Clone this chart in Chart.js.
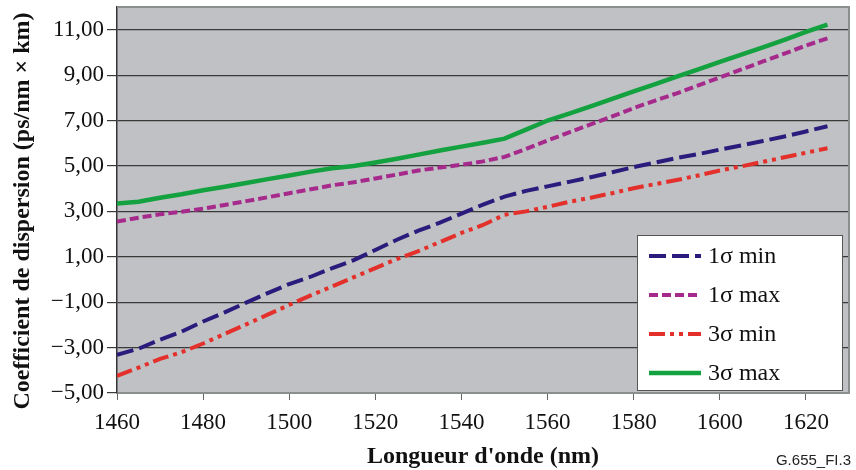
<!DOCTYPE html>
<html lang="fr">
<head>
<meta charset="UTF-8">
<title>Coefficient de dispersion G.655</title>
<script src="https://cdn.jsdelivr.net/npm/chart.js@4.4.1/dist/chart.umd.min.js"></script>
<style>
body { margin: 0; background: #fff; }
.cadre { position: relative; width: 856px; height: 470px; }
.ref {
    position: absolute; right: 5px; bottom: 2px;
    font-family: "Liberation Sans", Arial, sans-serif;
    font-size: 15px; color: #222;
}
</style>
</head>
<body>
<div class="cadre">
    <canvas id="graphique" width="856" height="470"></canvas>
    <div class="ref">G.655_FI.3</div>
</div>
<script>
// Données (pas de 5 nm)
const longueurs = [1460, 1465, 1470, 1475, 1480, 1485, 1490, 1495, 1500, 1505, 1510, 1515,
    1520, 1525, 1530, 1535, 1540, 1545, 1550, 1555, 1560, 1565, 1570, 1575, 1580, 1585,
    1590, 1595, 1600, 1605, 1610, 1615, 1620, 1625];

const sigma1Min = [-3.32, -3.05, -2.65, -2.30, -1.85, -1.45, -1.02, -0.60, -0.20, 0.12, 0.50, 0.85,
    1.30, 1.75, 2.15, 2.50, 2.90, 3.30, 3.65, 3.90, 4.10, 4.30, 4.50, 4.72, 4.95, 5.15,
    5.35, 5.52, 5.72, 5.90, 6.10, 6.30, 6.52, 6.75];

const sigma1Max = [2.55, 2.72, 2.87, 2.98, 3.12, 3.28, 3.45, 3.62, 3.80, 3.97, 4.15, 4.28,
    4.45, 4.62, 4.80, 4.93, 5.05, 5.20, 5.40, 5.75, 6.12, 6.48, 6.83, 7.18, 7.55, 7.88,
    8.20, 8.55, 8.90, 9.25, 9.60, 9.95, 10.30, 10.62];

const sigma3Min = [-4.25, -3.88, -3.50, -3.20, -2.82, -2.40, -1.98, -1.55, -1.12, -0.70, -0.30, 0.10,
    0.50, 0.90, 1.25, 1.65, 2.05, 2.40, 2.85, 3.00, 3.20, 3.42, 3.60, 3.80, 4.02, 4.20,
    4.38, 4.58, 4.80, 4.98, 5.18, 5.38, 5.58, 5.78];

const sigma3Max = [3.35, 3.42, 3.60, 3.75, 3.93, 4.08, 4.25, 4.42, 4.58, 4.75, 4.90, 5.00,
    5.15, 5.32, 5.50, 5.68, 5.85, 6.02, 6.20, 6.60, 7.00, 7.30, 7.62, 7.95, 8.28, 8.60,
    8.93, 9.25, 9.58, 9.90, 10.22, 10.55, 10.90, 11.22];

const ticksX = [1460, 1480, 1500, 1520, 1540, 1560, 1580, 1600, 1620];
const ticksY = [-5, -3, -1, 1, 3, 5, 7, 9, 11];

const serif = '"Liberation Serif", "Times New Roman", serif';

function points(serie) {
    return longueurs.map((x, i) => ({ x: x, y: serie[i] }));
}

function formatY(v) {
    return (v < 0 ? '\u2212' : '') + Math.abs(v).toFixed(2).replace('.', ',');
}

// fond gris + cadre de la zone de tracé
const fondGris = {
    id: 'fondGris',
    beforeDraw(chart) {
        const { ctx, chartArea: a } = chart;
        ctx.save();
        ctx.fillStyle = '#c0c1c5';
        ctx.fillRect(a.left, a.top, a.right - a.left, a.bottom - a.top);
        ctx.restore();
    },
    beforeDatasetsDraw(chart) {
        const { ctx, chartArea: a } = chart;
        ctx.save();
        ctx.strokeStyle = '#8c8f8f';
        ctx.lineWidth = 2;
        ctx.beginPath();
        ctx.moveTo(a.left, a.top);
        ctx.lineTo(a.right, a.top);
        ctx.lineTo(a.right, a.bottom);
        ctx.stroke();
        ctx.restore();
    }
};

// légende encadrée dans la zone de tracé
const legendeCadre = {
    id: 'legendeCadre',
    afterDraw(chart) {
        const { ctx, chartArea: a } = chart;
        const w = 205, h = 155;
        const x0 = a.right - 7 - w, y0 = a.bottom - 3 - h;
        ctx.save();
        ctx.fillStyle = '#fff';
        ctx.fillRect(x0, y0, w, h);
        ctx.strokeStyle = '#555';
        ctx.lineWidth = 1;
        ctx.strokeRect(x0 + 0.5, y0 + 0.5, w, h);
        ctx.font = '24px ' + serif;
        ctx.textBaseline = 'middle';
        chart.data.datasets.forEach((ds, i) => {
            const y = y0 + 21 + i * 39;
            ctx.strokeStyle = ds.borderColor;
            ctx.lineWidth = ds.borderWidth;
            ctx.setLineDash(ds.borderDash || []);
            ctx.beginPath();
            ctx.moveTo(x0 + 12, y);
            ctx.lineTo(x0 + 64, y);
            ctx.stroke();
            ctx.setLineDash([]);
            ctx.fillStyle = '#111';
            ctx.fillText(ds.label, x0 + 71, y + 1);
        });
        ctx.restore();
    }
};

// le titre vertical est un peu plus bas que le centre de la zone de tracé
function decalerTitre(s) {
    if (s._decale) return;
    const orig = s.drawTitle;
    s.drawTitle = function () {
        this.ctx.save();
        this.ctx.translate(0, 11);
        orig.call(this);
        this.ctx.restore();
    };
    s._decale = true;
}

const ctx = document.getElementById('graphique').getContext('2d');
new Chart(ctx, {
    type: 'line',
    data: {
        datasets: [
            { label: '1\u03c3 min', data: points(sigma1Min), borderColor: '#2b1b7c', borderWidth: 4, borderDash: [17, 6] },
            { label: '1\u03c3 max', data: points(sigma1Max), borderColor: '#a62a8c', borderWidth: 4, borderDash: [9, 4] },
            { label: '3\u03c3 min', data: points(sigma3Min), borderColor: '#e3302b', borderWidth: 4, borderDash: [16, 5, 4, 5, 4, 5] },
            { label: '3\u03c3 max', data: points(sigma3Max), borderColor: '#13a23f', borderWidth: 4.5 }
        ]
    },
    options: {
        responsive: false,
        animation: false,
        devicePixelRatio: 1,
        elements: { point: { radius: 0 }, line: { tension: 0, borderCapStyle: 'butt' } },
        layout: { padding: { top: 7, right: 7, left: 0, bottom: 0 } },
        plugins: { legend: { display: false }, tooltip: { enabled: false } },
        scales: {
            x: {
                type: 'linear',
                min: 1460,
                max: 1630,
                afterBuildTicks: s => { s.ticks = ticksX.map(v => ({ value: v })); },
                afterFit: s => { s.height = 77; s.paddingLeft = 0; s.paddingRight = 0; },
                grid: { drawOnChartArea: false, drawTicks: true, tickLength: 7, color: '#666' },
                border: { color: '#8c8f8f', width: 2 },
                ticks: { font: { family: serif, size: 23 }, color: '#111', padding: 9, maxRotation: 0, callback: v => String(v) },
                title: {
                    display: true, text: "Longueur d'onde (nm)",
                    font: { family: serif, size: 24, weight: 'bold', lineHeight: 1 }, color: '#111',
                    padding: { top: 0, bottom: 1 }
                }
            },
            y: {
                min: -5,
                max: 12,
                afterBuildTicks: s => { s.ticks = ticksY.map(v => ({ value: v })); },
                afterFit: s => { s.width = 117; s.paddingTop = 0; s.paddingBottom = 0; decalerTitre(s); },
                grid: { color: '#3a3a3a', lineWidth: 1.2, tickLength: 10 },
                border: { color: '#333', width: 1.5 },
                ticks: { font: { family: serif, size: 23 }, color: '#111', padding: 3, callback: formatY },
                title: {
                    display: true, text: 'Coefficient de dispersion (ps/nm \u00d7 km)',
                    font: { family: serif, size: 24, weight: 'bold', lineHeight: 1 }, color: '#111',
                    padding: { top: 11, bottom: 0 }
                }
            }
        }
    },
    plugins: [fondGris, legendeCadre]
});
</script>
</body>
</html>
